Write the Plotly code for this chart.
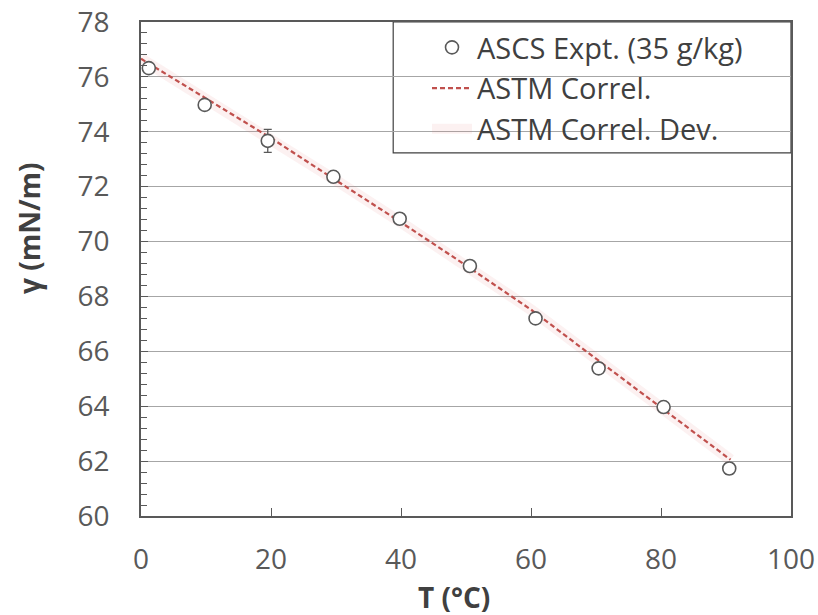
import plotly.graph_objects as go

# Experimental data (ASCS, 35 g/kg)
t_expt = [1.2, 9.8, 19.5, 29.6, 39.8, 50.6, 60.7, 70.4, 80.4, 90.5]
g_expt = [76.32, 74.98, 73.67, 72.36, 70.83, 69.11, 67.20, 65.38, 63.97, 61.73]
g_err = [0.10, 0.10, 0.42, 0.10, 0.10, 0.10, 0.10, 0.10, 0.10, 0.20]

# ASTM correlation
t_corr = [0, 10, 20, 30, 40, 50, 60, 70, 80, 90, 90.7]
g_corr = [76.66, 75.22, 73.77, 72.23, 70.70, 69.13, 67.52, 65.73, 63.95, 62.16, 62.05]

x_ticks = [0, 20, 40, 60, 80, 100]
y_ticks = [60, 62, 64, 66, 68, 70, 72, 74, 76, 78]

x_title = "T (°C)"
y_title = "γ (mN/m)"

FONT = "Open Sans"
TXT = "#404040"
AX = "#595959"

fig = go.Figure()

fig.add_trace(go.Scatter(
    x=t_corr, y=g_corr, mode="lines", name="ASTM Correl. Dev.",
    line=dict(color="rgba(225,120,120,0.10)", width=11),
    legendrank=3, hoverinfo="skip"))

fig.add_trace(go.Scatter(
    x=t_corr, y=g_corr, mode="lines", name="ASTM Correl.",
    line=dict(color="#C0504D", width=2.2, dash="5px,3px"),
    legendrank=2))

fig.add_trace(go.Scatter(
    x=t_expt, y=g_expt, mode="markers", name="ASCS Expt. (35 g/kg)",
    marker=dict(symbol="circle", size=13, color="white",
                line=dict(color=AX, width=1.6)),
    error_y=dict(type="data", array=g_err, color=AX, thickness=1.3, width=4),
    legendrank=1))

# legend frame
fig.add_shape(type="rect", xref="paper", yref="paper",
              x0=0.388, x1=1.0, y0=0.735, y1=1.0,
              line=dict(color=TXT, width=1.2), fillcolor="white", layer="below")

# axis titles
fig.add_annotation(text="<b>" + x_title + "</b>", xref="paper", yref="paper",
                   x=0.4815, y=0, yshift=-81, xanchor="center", yanchor="middle",
                   showarrow=False, font=dict(family=FONT, size=28, color=TXT))
fig.add_annotation(text="<b>" + y_title + "</b>", xref="paper", yref="paper",
                   x=0, y=0.581, xshift=-112, xanchor="center", yanchor="middle",
                   textangle=-90, showarrow=False,
                   font=dict(family=FONT, size=28, color=TXT))

fig.update_layout(
    width=818, height=615,
    margin=dict(l=141, r=27, t=22, b=99, autoexpand=False),
    plot_bgcolor="white", paper_bgcolor="white",
    font=dict(family=FONT, color=TXT, size=26),
    showlegend=True,
    legend=dict(x=0.44, y=1.0, xanchor="left", yanchor="top",
                bgcolor="rgba(0,0,0,0)", borderwidth=0,
                font=dict(family=FONT, size=29, color=TXT),
                itemwidth=40, tracegroupgap=0),
    xaxis=dict(range=[0, 100], tickvals=x_ticks, ticktext=[str(v) for v in x_ticks],
               showline=True, linecolor=AX, linewidth=1.5, mirror=True,
               ticks="inside", ticklen=8, tickcolor=AX, tickwidth=1.2,
               showgrid=False, zeroline=False, ticklabelstandoff=18, automargin=False,
               tickfont=dict(size=28, color="#595959")),
    yaxis=dict(range=[60, 78], tickvals=y_ticks, ticktext=[str(v) for v in y_ticks],
               showline=True, linecolor=AX, linewidth=1.5, mirror=True,
               ticks="inside", ticklen=7, tickcolor=AX, tickwidth=1.2,
               minor=dict(dtick=0.4, ticks="inside", ticklen=6, tickcolor=AX, tickwidth=1.2,
                          showgrid=False),
               showgrid=True, gridcolor="#A6A6A6", gridwidth=1, zeroline=False,
               ticklabelstandoff=24, automargin=False,
               tickfont=dict(size=28, color="#595959")),
)

fig.write_html("out.html")
